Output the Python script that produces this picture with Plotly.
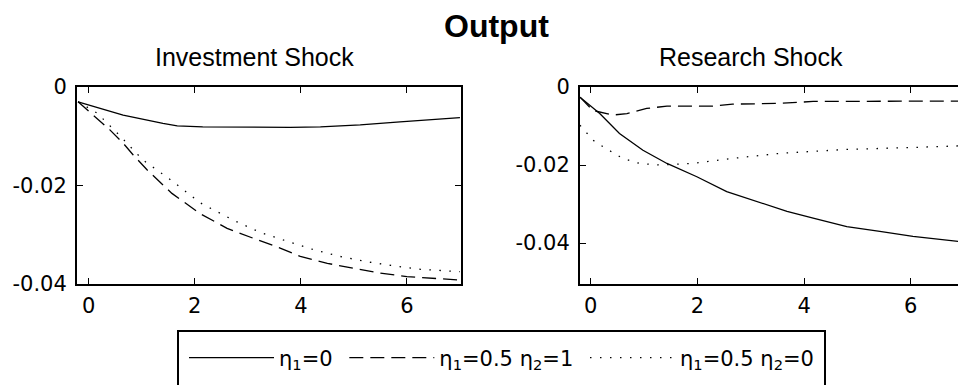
import plotly.graph_objects as go

# ---- data ----
# Investment shock
inv_solid_x = [-0.2, 0.65, 1.40, 1.67, 2.15, 3.0, 3.8, 4.37, 5.12, 5.87, 6.44, 7.0]
inv_solid_y = [-0.0030, -0.0057, -0.0074, -0.0079, -0.0081, -0.0082, -0.0082, -0.0081, -0.0077, -0.0071, -0.0066, -0.0062]

inv_dash_x = [-0.2, 0.40, 0.65, 0.84, 1.10, 1.57, 2.10, 2.61, 3.10, 3.61, 3.99, 4.50, 4.99, 5.50, 6.0, 6.5, 7.0]
inv_dash_y = [-0.0030, -0.0087, -0.0114, -0.0138, -0.0168, -0.0216, -0.0257, -0.0287, -0.0307, -0.0327, -0.0344, -0.0358, -0.0368, -0.0378, -0.0385, -0.0388, -0.0392]

inv_dot_x = [-0.2, 0.16, 0.60, 1.02, 1.59, 2.10, 2.72, 3.23, 3.74, 4.23, 4.74, 5.25, 5.74, 6.25, 7.0]
inv_dot_y = [-0.0030, -0.0053, -0.0100, -0.0148, -0.0192, -0.0235, -0.0270, -0.0295, -0.0313, -0.0330, -0.0344, -0.0355, -0.0363, -0.0370, -0.0375]

# Research shock
res_solid_x = [-0.2, 0.17, 0.54, 0.98, 1.43, 1.99, 2.55, 3.11, 3.68, 4.17, 4.80, 5.42, 6.04, 6.9]
res_solid_y = [-0.0026, -0.0068, -0.0119, -0.0162, -0.0196, -0.0230, -0.0268, -0.0294, -0.0319, -0.0336, -0.0358, -0.0370, -0.0383, -0.0396]

res_dash_x = [-0.2, 0.04, 0.41, 0.68, 1.05, 1.43, 2.29, 2.66, 3.55, 4.17, 6.9]
res_dash_y = [-0.0026, -0.0060, -0.0072, -0.0068, -0.0055, -0.0049, -0.0049, -0.0044, -0.0042, -0.0037, -0.0036]

res_dot_x = [-0.2, 0.04, 0.23, 0.60, 0.92, 1.29, 1.91, 2.66, 3.55, 4.80, 6.04, 6.9]
res_dot_y = [-0.0098, -0.0136, -0.0153, -0.0183, -0.0196, -0.0200, -0.0196, -0.0183, -0.0170, -0.0160, -0.0155, -0.0151]

series_names = ["η<sub>1</sub>=0", "η<sub>1</sub>=0.5 η<sub>2</sub>=1", "η<sub>1</sub>=0.5 η<sub>2</sub>=0"]
x_tickvals = [0, 2, 4, 6]
x_ticktext = ["0", "2", "4", "6"]
y_tickvals = [0, -0.02, -0.04]
y_ticktext = ["0", "-0.02", "-0.04"]

W, H = 958, 385
FONT = "Liberation Sans, Arial, sans-serif"
TFONT = "DejaVu Sans, sans-serif"
dash_style = "14px,7px"
dot_style = "1.5px,8.5px"

fig = go.Figure()
styles = [dict(color="black", width=1.3),
          dict(color="black", width=1.3, dash=dash_style),
          dict(color="black", width=1.3, dash=dot_style)]

pads = ["&nbsp;", "&nbsp;", ""]
legend_names = [series_names[i] + pads[i] for i in range(3)]

left = [(inv_solid_x, inv_solid_y), (inv_dash_x, inv_dash_y), (inv_dot_x, inv_dot_y)]
right = [(res_solid_x, res_solid_y), (res_dash_x, res_dash_y), (res_dot_x, res_dot_y)]
for i, (xs, ys) in enumerate(left):
    fig.add_trace(go.Scatter(x=xs, y=ys, mode="lines", line=styles[i], name=legend_names[i],
                             xaxis="x", yaxis="y", showlegend=True))
for i, (xs, ys) in enumerate(right):
    fig.add_trace(go.Scatter(x=xs, y=ys, mode="lines", line=styles[i], name=legend_names[i],
                             xaxis="x2", yaxis="y2", showlegend=False))

tickfont = dict(family=TFONT, size=21, color="black")
common_x = dict(tickvals=x_tickvals, ticktext=x_ticktext, ticks="inside", ticklen=6, tickcolor="black",
                showline=True, linecolor="black", linewidth=2, mirror="ticks", showgrid=False,
                zeroline=False, tickfont=tickfont, ticklabelstandoff=2)
common_y = dict(tickvals=y_tickvals, ticktext=y_ticktext, ticks="inside", ticklen=6, tickcolor="black",
                showline=True, linecolor="black", linewidth=2, showgrid=False, zeroline=False,
                tickfont=tickfont, ticklabelstandoff=4)

y_dom = [1 - 284 / H, 1 - 87 / H]
fig.update_layout(
    width=W, height=H,
    margin=dict(l=0, r=0, t=0, b=0, autoexpand=False),
    paper_bgcolor="white", plot_bgcolor="white",
    font=dict(family=FONT, color="black"),
    xaxis=dict(domain=[77 / W, 461 / W], range=[-0.22, 7.02], anchor="y", **common_x),
    yaxis=dict(domain=y_dom, range=[-0.04, 0], anchor="x", mirror="ticks", **common_y),
    xaxis2=dict(domain=[580 / W, 1.0], range=[-0.2, 6.885], anchor="y2", **common_x),
    yaxis2=dict(domain=y_dom, range=[-0.0505, 0], anchor="x2", mirror=False, **common_y),
    showlegend=True,
    legend=dict(orientation="h", x=184 / W, xanchor="left", y=1 - 358 / H, yanchor="middle",
                borderwidth=0, bgcolor="rgba(0,0,0,0)",
                font=dict(family=TFONT, size=21, color="black"),
                itemwidth=85, tracegroupgap=0),
    shapes=[dict(type="rect", xref="paper", yref="paper",
                 x0=178 / W, x1=825 / W, y0=1 - 400 / H, y1=1 - 331 / H,
                 line=dict(color="black", width=2), fillcolor="rgba(0,0,0,0)", layer="below")],
    annotations=[
        dict(text="<b>Output</b>", x=497 / W, y=1 - 26.5 / H, xref="paper", yref="paper",
             showarrow=False, font=dict(family=FONT, size=32, color="black"),
             xanchor="center", yanchor="middle"),
        dict(text="Investment Shock", x=254.5 / W, y=1 - 57 / H, xref="paper", yref="paper",
             showarrow=False, font=dict(family=FONT, size=25, color="black"),
             xanchor="center", yanchor="middle"),
        dict(text="Research Shock", x=751 / W, y=1 - 57 / H, xref="paper", yref="paper",
             showarrow=False, font=dict(family=FONT, size=25, color="black"),
             xanchor="center", yanchor="middle"),
    ],
)

fig.write_html("out.html", config={"displayModeBar": False},
               post_script="document.body.style.margin='0px';")
